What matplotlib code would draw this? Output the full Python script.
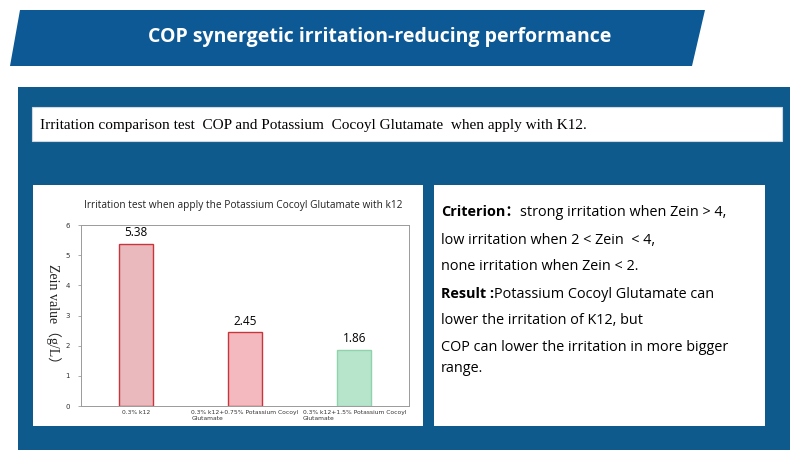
import matplotlib
matplotlib.use("Agg")
import matplotlib.pyplot as plt
from matplotlib.patches import Polygon, Rectangle

# ---- data ----
categories = ["0.3% k12",
              "0.3% k12+0.75% Potassium Cocoyl\nGlutamate",
              "0.3% k12+1.5% Potassium Cocoyl\nGlutamate"]
values = [5.38, 2.45, 1.86]
value_labels = ["5.38", "2.45", "1.86"]
yticks = [0, 1, 2, 3, 4, 5, 6]
bar_fill = ["#e9b9bd", "#f3b9be", "#b6e5cb"]
bar_edge = ["#c8363c", "#c8363c", "#8fd3ad"]

title = "COP synergetic irritation-reducing performance"
subtitle = "Irritation comparison test  COP and Potassium  Cocoyl Glutamate  when apply with K12."
chart_title = "Irritation test when apply the Potassium Cocoyl Glutamate with k12"
ylabel = "Zein value（g/L）"

W, H = 800, 461
fig = plt.figure(figsize=(8, 4.61), dpi=100)
bg = fig.add_axes([0, 0, 1, 1])
bg.set_xlim(0, W)
bg.set_ylim(H, 0)
bg.axis("off")

blue = "#0f5a8c"
fam = ["Open Sans", "Noto Sans CJK SC"]
# title banner (parallelogram)
bg.add_patch(Polygon([(20, 10), (705, 10), (692, 66), (10, 66)], closed=True,
                     facecolor="#0c5995", edgecolor="none"))
bg.text(380, 37, title, color="white", fontsize=14, fontweight="bold",
        family=fam, ha="center", va="center")
# main blue panel
bg.add_patch(Rectangle((18, 87), 772, 363, facecolor=blue, edgecolor="none"))
# subtitle box
bg.add_patch(Rectangle((32, 107), 750, 34, facecolor="white", edgecolor="#cfd8e0", lw=0.8))
bg.text(40, 125, subtitle, fontsize=11, family="Liberation Serif",
        ha="left", va="center", color="black")
# chart box and text box
bg.add_patch(Rectangle((33, 185), 390, 241, facecolor="white", edgecolor="none"))
bg.add_patch(Rectangle((434, 185), 331, 241, facecolor="white", edgecolor="none"))

# right text
fs = 10.4
lines = [
    [("Criterion：", "bold"), ("strong irritation when Zein > 4,", "normal")],
    [("low irritation when 2 < Zein  < 4,", "normal")],
    [("none irritation when Zein < 2.", "normal")],
    [("Result :", "bold"), ("Potassium Cocoyl Glutamate can", "normal")],
    [("lower the irritation of K12, but", "normal")],
    [("COP can lower the irritation in more bigger", "normal")],
    [("range.", "normal")],
]
ys = [212, 240, 266, 294, 320, 347, 368]
fig.canvas.draw()
renderer = fig.canvas.get_renderer()
for segs, y in zip(lines, ys):
    x = 441
    for txt, wgt in segs:
        t = bg.text(x, y, txt, fontsize=fs, fontweight=wgt, family=fam,
                    ha="left", va="center", color="black")
        bb = t.get_window_extent(renderer=renderer)
        x += bb.width

# chart axes
x0, x1, ytop, ybot = 81, 409, 225, 406
ax = fig.add_axes([x0 / W, (H - ybot) / H, (x1 - x0) / W, (ybot - ytop) / H])
pos = list(range(len(values)))
bars = ax.bar(pos, values, width=0.31, color=bar_fill, edgecolor=bar_edge, linewidth=1.0)
for p, v, lab in zip(pos, values, value_labels):
    ax.text(p, v + 0.15, lab, ha="center", va="bottom", fontsize=8.5, family="Open Sans")
ax.set_xlim(-0.5, 2.5)
ax.set_ylim(0, 6)
ax.set_yticks(yticks)
ax.set_yticklabels([str(t) for t in yticks], fontsize=5, color="#333333")
ax.set_xticks(pos)
ax.set_xticklabels(categories, fontsize=4.3, color="#333333", multialignment="left", va="top")
ax.tick_params(axis="x", length=0, pad=3)
ax.tick_params(axis="y", length=2, width=0.5, color="#888888", pad=6)
for s in ax.spines.values():
    s.set_color("#9a9a9a")
    s.set_linewidth(0.7)
ax.set_facecolor("white")
bg.text(243, 205, chart_title, fontsize=7.3, family="Open Sans", ha="center", va="center", color="#222222")
bg.text(53, 317, ylabel, fontsize=10, family=["Liberation Serif", "Noto Sans CJK SC"],
        rotation=-90, ha="center", va="center", color="#222222")

fig.savefig("out.png", dpi=100)
